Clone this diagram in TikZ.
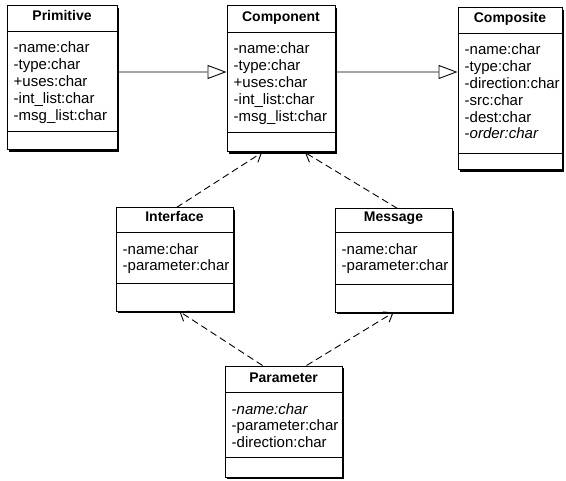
\documentclass[tikz,border=0pt]{standalone}
\usepackage{fontspec}
\setmainfont{Liberation Sans}
\usetikzlibrary{arrows.meta,shadows,fit}

\tikzset{
  classbox/.style={draw, line width=1bp, fill=white, inner sep=0pt,
    drop shadow={shadow xshift=2bp, shadow yshift=-2bp, fill=black, opacity=1}},
  sepline/.style={line width=0.8bp},
  classtitle/.style={font=\fontsize{14bp}{17bp}\selectfont\bfseries, inner sep=0pt, anchor=base},
  attr/.style={font=\fontsize{15bp}{17bp}\selectfont, inner sep=0pt, anchor=base west},
  gen/.style={line width=0.9bp, -{Triangle[open,length=19bp,width=14bp,fill=white]}},
  dep/.style={line width=0.9bp, dash pattern=on 7bp off 4bp,
    -{Straight Barb[length=8bp,width=12bp]}}
}

% #1 name, #2..#5 box corners, #6 title rule, #7 attribute rule, #8 title, #9 attributes
\newcommand\umlclass[9]{%
  \node[classbox, fit={(#2,#3) (#4,#5)}] (#1) {};
  \draw[sepline] (#2,#6) -- (#4,#6);
  \draw[sepline] (#2,#7) -- (#4,#7);
  \node[classtitle] (#1-t) at ({(#2+#4)/2},{#6-10}) {#8};
  \foreach \a [count=\i] in {#9}
    {\node[attr] (#1-a\i) at ({#2+6.5},{#6+22+16.8*(\i-1)}) {\a};}
}

\begin{document}
\begin{tikzpicture}[x=1bp,y=-1bp]
\useasboundingbox (0,0) rectangle (566,481);

\umlclass{prim}{7}{6}{117}{150}{31}{131}{Primitive}%
  {-name:char,-type:char,+uses:char,-int\_list:char,-msg\_list:char}
\umlclass{comp}{227}{6}{335}{152}{32}{132}{Component}%
  {-name:char,-type:char,+uses:char,-int\_list:char,-msg\_list:char}
\umlclass{compo}{458}{8}{562}{170}{33}{153}{Composite}%
  {-name:char,-type:char,-direction:char,-src:char,-dest:char,-\textit{order:char}}
\umlclass{iface}{116}{208}{233}{311}{232}{283}{Interface}%
  {-name:char,-parameter:char}
\umlclass{msg}{335}{209}{452}{312}{232}{284}{Message}%
  {-name:char,-parameter:char}
\umlclass{param}{225}{366}{342}{477}{392}{457}{Parameter}%
  {-\textit{name:char},-parameter:char,-direction:char}

% generalisations
\draw[gen] ([yshift=6bp]prim.east) -- ([yshift=7bp]comp.west);
\draw[gen] ([yshift=7bp]comp.east) -- ([yshift=17bp]compo.west);

% dependencies
\draw[dep] ([xshift=2bp]iface.north) -- ([xshift=-19bp]comp.south);
\draw[dep] ([xshift=4bp]msg.north) -- ([xshift=24bp]comp.south);
\draw[dep] ([xshift=-21bp]param.north) -- ([xshift=5bp]iface.south);
\draw[dep] ([xshift=23bp]param.north) -- ([xshift=0bp]msg.south);
\end{tikzpicture}
\end{document}
